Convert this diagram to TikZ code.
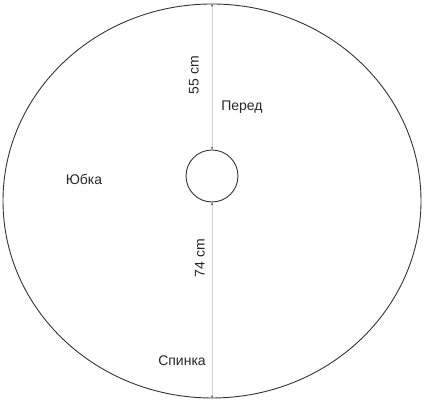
\documentclass[tikz,border=0pt]{standalone}
\usepackage{fontspec}
\setmainfont{Liberation Sans}
\usetikzlibrary{arrows.meta,shapes.geometric}
\begin{document}
\begin{tikzpicture}[x=1pt,y=1pt,
  outline/.style={draw=black!80, line width=0.9pt},
  dim/.style={draw=black!18, line width=0.6pt, {Stealth[length=3pt,width=2pt,black!70]}-{Stealth[length=3pt,width=2pt,black!70]}},
  lbl/.style={font=\fontsize{14}{16}\selectfont, text=black!85, inner sep=0pt}]
\useasboundingbox (0,0) rectangle (424,401);
\node[outline, ellipse, minimum width=418pt, minimum height=394pt, inner sep=0pt] (skirt) at (212,200) {};
\node[outline, circle, minimum size=52pt, inner sep=0pt] (waist) at (212,225) {};
\draw[dim] (skirt.north) -- (waist.north);
\draw[dim] (waist.south) -- (skirt.south);
\node[lbl, rotate=90] (front) at (194,326) {55 cm};
\node[lbl, rotate=90] (back) at (200,143) {74 cm};
\node[lbl] (pered) at (242,294) {Перед};
\node[lbl] (yubka) at (84,222) {Юбка};
\node[lbl] (spinka) at (182,40) {Спинка};
\end{tikzpicture}
\end{document}
